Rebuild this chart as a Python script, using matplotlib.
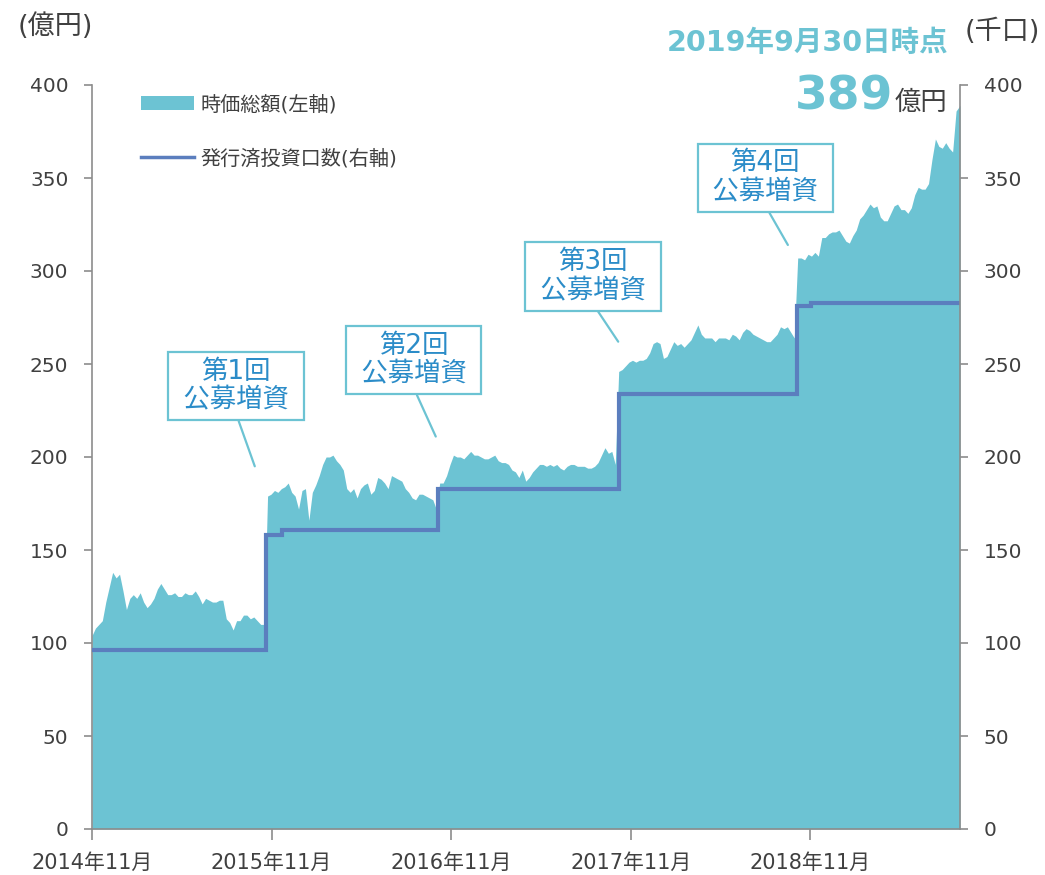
import numpy as np
import pandas as pd
import matplotlib
matplotlib.use('Agg')
import matplotlib.pyplot as plt
import matplotlib.dates as mdates
from matplotlib.patches import Patch
from matplotlib.lines import Line2D

plt.rcParams['font.family'] = ['DejaVu Sans', 'Noto Sans CJK JP']

# 時価総額 (億円), weekly values, starting 2014-11-30
mcap_y1 = [104, 108, 110, 112, 122, 130, 138, 135, 137, 128, 118, 124, 126, 124, 127,
           122, 119, 121, 124, 129, 132, 129, 126, 126, 127, 125, 125, 127, 126, 126,
           128, 125, 121, 124, 123, 122, 122, 123, 123, 113, 111, 107, 112, 112, 115,
           115, 113, 114, 112, 110, 110]
mcap_y2 = [179, 180, 182, 181, 183, 184, 186, 181, 179, 172, 182, 183, 166, 181, 185,
           190, 196, 200, 200, 201, 198, 196, 193, 183, 181, 183, 178, 183, 185, 186,
           180, 182, 189, 188, 186, 183, 190, 189, 188, 187, 183, 181, 178, 177, 180,
           180, 179, 178, 177, 172]
mcap_y3 = [186, 186, 190, 196, 201, 200, 200, 199, 201, 203, 201, 201, 200, 199, 199,
           200, 201, 198, 197, 197, 196, 193, 192, 189, 193, 187, 189, 192, 194, 196,
           196, 195, 196, 195, 196, 194, 193, 195, 196, 196, 195, 195, 195, 194, 194,
           195, 197, 201, 205, 202, 203, 196]
mcap_y4 = [246, 247, 249, 251, 252, 251, 252, 252, 253, 256, 261, 262, 261, 253, 254,
           258, 262, 260, 261, 259, 261, 263, 267, 271, 266, 264, 264, 264, 262, 264,
           264, 264, 263, 266, 265, 263, 267, 269, 268, 266, 265, 264, 263, 262, 262,
           264, 266, 270, 269, 270, 267, 264]
mcap_y5 = [307, 307, 306, 309, 308, 310, 308, 318, 318, 320, 321, 321, 322, 319, 316,
           315, 319, 322, 328, 330, 333, 336, 334, 335, 329, 327, 327, 331, 335, 336,
           333, 333, 331, 334, 341, 345, 344, 344, 347, 360, 371, 367, 366, 369, 366,
           364, 386]
mcap_last = 389
start_date = '2014-11-30'
end_date = '2019-09-30'

# 発行済投資口数 (千口)
share_dates = ['2014-11-30', '2015-11-19', '2015-12-21', '2016-11-03',
               '2017-11-05', '2018-11-03', '2018-12-01', '2019-09-30']
share_units = [96, 158, 161, 183, 234, 281, 283, 283]

tick_dates = ['2014-11-30', '2015-11-30', '2016-11-30', '2017-11-30', '2018-11-30']
tick_labels = ['2014年11月', '2015年11月', '2016年11月', '2017年11月', '2018年11月']

offer_labels = ['第1回\n 公募増資 ', '第2回\n 公募増資 ', '第3回\n 公募増資 ', '第4回\n 公募増資 ']
box_dates = ['2015-09-19', '2016-09-14', '2017-09-14', '2018-08-30']
box_vals = [238, 252, 297, 350]
tip_dates = ['2015-10-27', '2016-10-29', '2017-11-04', '2018-10-15']
tip_vals = [195, 211, 262, 314]

FILL = '#6CC3D3'
LINE = '#5B7EBE'
BOX_TXT = '#2B8CC8'
GRAY = '#8C8C8C'
TXT = '#404040'

mcap = mcap_y1 + mcap_y2 + mcap_y3 + mcap_y4 + mcap_y5 + [mcap_last]
weeks = pd.date_range(start_date, periods=len(mcap) - 1, freq='7D')
mcap_dates = list(weeks) + [pd.Timestamp(end_date)]
mx = mdates.date2num(mcap_dates)
sx = mdates.date2num(pd.to_datetime(share_dates))

fig = plt.figure(figsize=(10.45, 8.75), dpi=100)
ax = fig.add_axes([92 / 1045, 46 / 875, 868 / 1045, 744 / 875])
ax2 = ax.twinx()

ax.fill_between(mx, 0, mcap, color=FILL, lw=0)
ax2.step(sx, share_units, where='post', color=LINE, lw=3,
         solid_joinstyle='miter', solid_capstyle='butt')

for a in (ax, ax2):
    a.set_ylim(0, 400)
    a.set_yticks(range(0, 401, 50))
    a.set_xlim(mdates.date2num(pd.Timestamp(start_date)), mdates.date2num(pd.Timestamp(end_date)))
    a.spines['top'].set_visible(False)
    for s in a.spines.values():
        s.set_color(GRAY)
        s.set_linewidth(1.2)
ax.spines['right'].set_visible(False)
ax2.spines['left'].set_visible(False)
ax2.spines['bottom'].set_visible(False)

ax.set_xticks(mdates.date2num(pd.to_datetime(tick_dates)))
ax.set_xticklabels(tick_labels)
ax.tick_params(axis='x', direction='out', length=8, width=1.2, color=GRAY,
               labelsize=15, labelcolor=TXT, pad=9)
ax.tick_params(axis='y', direction='out', length=6, width=1.2, color=GRAY,
               labelsize=14.5, labelcolor=TXT, pad=11)
ax2.tick_params(axis='y', direction='out', length=6, width=1.2, color=GRAY,
                labelsize=14.5, labelcolor=TXT, pad=11)

for lab, bd, bv, td, tv in zip(offer_labels, box_dates, box_vals, tip_dates, tip_vals):
    ax.annotate(lab, xy=(mdates.date2num(pd.Timestamp(td)), tv),
                xytext=(mdates.date2num(pd.Timestamp(bd)), bv),
                ha='center', va='center', multialignment='center',
                fontsize=19, color=BOX_TXT, linespacing=1.15,
                bbox=dict(boxstyle='square,pad=0.25', fc='white', ec=FILL, lw=1.6),
                arrowprops=dict(arrowstyle='-', color=FILL, lw=1.6, relpos=(0.5, 0),
                                shrinkA=0, shrinkB=0))

handles = [Patch(facecolor=FILL, edgecolor='none'), Line2D([], [], color=LINE, lw=2.5)]
ax2.legend(handles, ['時価総額(左軸)', '発行済投資口数(右軸)'], loc='upper left',
           bbox_to_anchor=(0.057, 0.987), frameon=False, fontsize=14.5,
           handlelength=2.6, handletextpad=0.35, labelspacing=1.7,
           borderpad=0, borderaxespad=0, labelcolor=TXT)

fig.text(18 / 1045, 1 - 27 / 875, '(億円)', fontsize=19.5, color=TXT, ha='left', va='center')
fig.text(965 / 1045, 1 - 32 / 875, '(千口)', fontsize=19.5, color=TXT, ha='left', va='center')
fig.text(948 / 1045, 1 - 43 / 875, '2019年9月30日時点', fontsize=20.5, color=FILL,
         fontweight='bold', ha='right', va='center')
fig.text(947 / 1045, 1 - 110 / 875, '億円', fontsize=19, color=TXT, ha='right', va='baseline')
fig.text(893 / 1045, 1 - 110 / 875, f'{mcap_last}', fontsize=34, color=FILL,
         fontweight='bold', ha='right', va='baseline')

fig.savefig('out.png', dpi=100)
